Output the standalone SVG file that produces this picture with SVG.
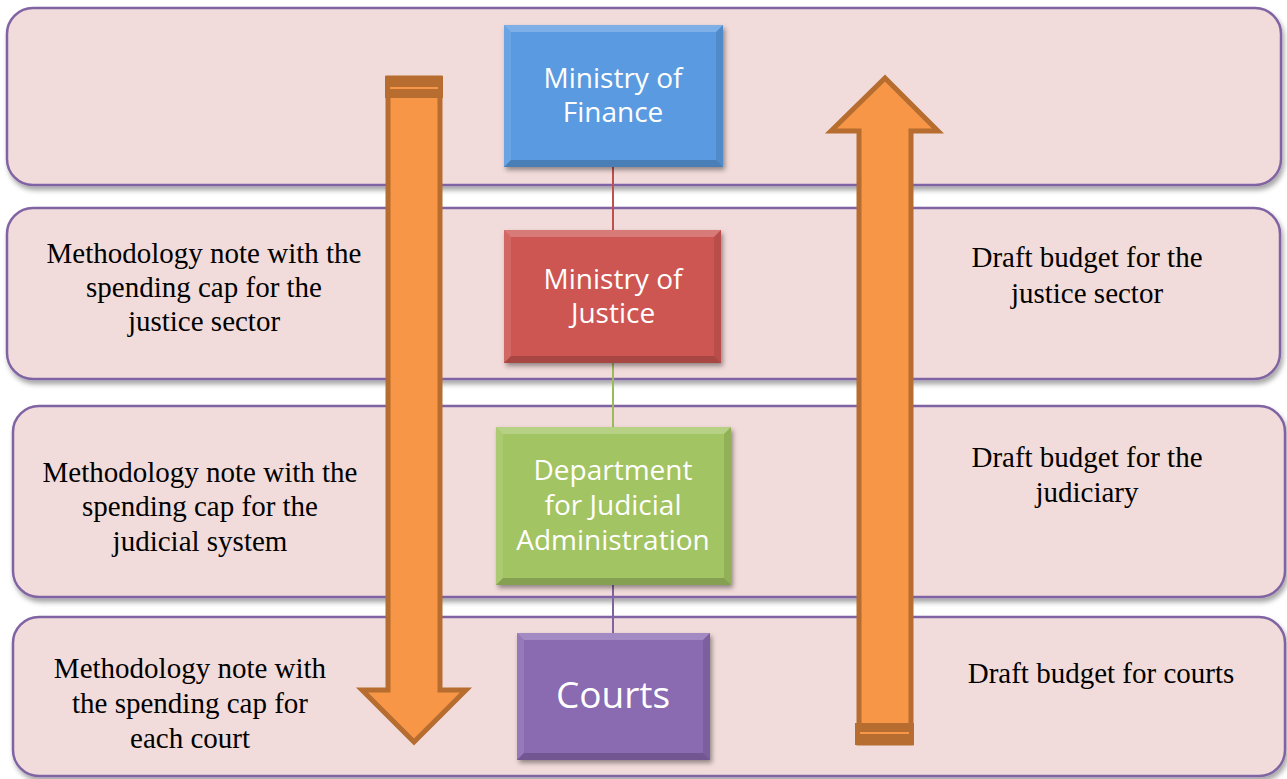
<svg xmlns="http://www.w3.org/2000/svg" width="1287" height="779" viewBox="0 0 1287 779">
  <defs>
    <filter id="shadow" x="-5%" y="-10%" width="110%" height="125%">
      <feDropShadow dx="2" dy="4" stdDeviation="2.5" flood-color="#000" flood-opacity="0.35"/>
    </filter>
    <filter id="boxShadow" x="-10%" y="-10%" width="125%" height="125%">
      <feDropShadow dx="2" dy="3" stdDeviation="2.5" flood-color="#000" flood-opacity="0.4"/>
    </filter>
    <style>
      .band { fill: #F2DCDB; stroke: #8064A2; stroke-width: 2.5; }
      .note { font-family: "Liberation Serif", "Times New Roman", serif; font-size: 29px; fill: #000; text-anchor: middle; }
      .label { font-family: "Open Sans", "Liberation Sans", sans-serif; font-size: 28px; fill: #fff; text-anchor: middle; }
      .bt { fill: #fff; opacity: 0.22; }
      .bl { fill: #fff; opacity: 0.1; }
      .bb { fill: #000; opacity: 0.18; }
      .br { fill: #000; opacity: 0.1; }
      .arrow { fill: #F79646; stroke: #B66D2F; stroke-width: 5; stroke-linejoin: miter; }
      .cap { fill: #B66D2F; }
      .capline { stroke: #F79646; stroke-width: 2; }
      .conn { stroke-width: 2; fill: none; }
    </style>
  </defs>
  <rect width="1287" height="779" fill="#fff"/>

  <!-- horizontal bands -->
  <g id="bands" filter="url(#shadow)">
    <rect id="band-finance" class="band" x="7" y="8" width="1274" height="177" rx="26"/>
    <rect id="band-justice" class="band" x="7" y="208" width="1273" height="171" rx="26"/>
    <rect id="band-judiciary" class="band" x="13" y="406" width="1272" height="191" rx="26"/>
    <rect id="band-courts" class="band" x="13" y="617" width="1272" height="159" rx="26"/>
  </g>

  <!-- connectors between the hierarchy boxes -->
  <g id="connectors">
    <line class="conn" x1="613" y1="167" x2="613" y2="230" stroke="#C0504D"/>
    <line class="conn" x1="613" y1="363" x2="613" y2="427" stroke="#9BBB59"/>
    <line class="conn" x1="613" y1="585" x2="613" y2="633" stroke="#8064A2"/>
  </g>

  <!-- downward arrow -->
  <g id="arrow-down">
    <polygon class="arrow" points="388,78 440,78 440,690 466,690 414,742 362,690 388,690"/>
    <rect class="cap" x="385" y="76" width="58" height="22"/>
    <line class="capline" x1="390" y1="88" x2="438" y2="88"/>
  </g>

  <!-- upward arrow -->
  <g id="arrow-up">
    <polygon class="arrow" points="859,743 911,743 911,131 938,131 885,78 831,131 859,131"/>
    <rect class="cap" x="855" y="723" width="59" height="22"/>
    <line class="capline" x1="860" y1="733" x2="909" y2="733"/>
  </g>

  <!-- Ministry of Finance -->
  <g id="node-finance">
    <rect x="504" y="25" width="219" height="142" fill="#5A9AE0" filter="url(#boxShadow)"/>
    <polygon class="bt" points="504,25 723,25 716,32 511,32"/>
    <polygon class="bl" points="504,25 511,32 511,160 504,167"/>
    <polygon class="bb" points="504,167 723,167 716,160 511,160"/>
    <polygon class="br" points="723,25 716,32 716,160 723,167"/>
    <text class="label" x="613" y="88">Ministry of</text>
    <text class="label" x="613" y="122">Finance</text>
  </g>

  <!-- Ministry of Justice -->
  <g id="node-justice">
    <rect x="504" y="230" width="217" height="133" fill="#CD5653" filter="url(#boxShadow)"/>
    <polygon class="bt" points="504,230 721,230 714,237 511,237"/>
    <polygon class="bl" points="504,230 511,237 511,356 504,363"/>
    <polygon class="bb" points="504,363 721,363 714,356 511,356"/>
    <polygon class="br" points="721,230 714,237 714,356 721,363"/>
    <text class="label" x="613" y="289">Ministry of</text>
    <text class="label" x="613" y="323">Justice</text>
  </g>

  <!-- Department for Judicial Administration -->
  <g id="node-department">
    <rect x="496" y="427" width="235" height="158" fill="#A3C462" filter="url(#boxShadow)"/>
    <polygon class="bt" points="496,427 731,427 724,434 503,434"/>
    <polygon class="bl" points="496,427 503,434 503,578 496,585"/>
    <polygon class="bb" points="496,585 731,585 724,578 503,578"/>
    <polygon class="br" points="731,427 724,434 724,578 731,585"/>
    <text class="label" x="613" y="480">Department</text>
    <text class="label" x="613" y="515">for Judicial</text>
    <text class="label" x="613" y="550">Administration</text>
  </g>

  <!-- Courts -->
  <g id="node-courts">
    <rect x="517" y="633" width="193" height="127" fill="#8A6BB1" filter="url(#boxShadow)"/>
    <polygon class="bt" points="517,633 710,633 703,640 524,640"/>
    <polygon class="bl" points="517,633 524,640 524,753 517,760"/>
    <polygon class="bb" points="517,760 710,760 703,753 524,753"/>
    <polygon class="br" points="710,633 703,640 703,753 710,760"/>
    <text class="label" x="613" y="708" style="font-size:37px">Courts</text>
  </g>

  <!-- notes sent downwards -->
  <g id="notes-left">
    <text class="note" x="204" y="263">Methodology note with the</text>
    <text class="note" x="204" y="297">spending cap for the</text>
    <text class="note" x="204" y="331">justice sector</text>
    <text class="note" x="200" y="482">Methodology note with the</text>
    <text class="note" x="200" y="516">spending cap for the</text>
    <text class="note" x="200" y="551">judicial system</text>
    <text class="note" x="190" y="678">Methodology note with</text>
    <text class="note" x="190" y="713">the spending cap for</text>
    <text class="note" x="190" y="748">each court</text>
  </g>

  <!-- draft budgets sent upwards -->
  <g id="notes-right">
    <text class="note" x="1087" y="267">Draft budget for the</text>
    <text class="note" x="1087" y="303">justice sector</text>
    <text class="note" x="1087" y="467">Draft budget for the</text>
    <text class="note" x="1087" y="502">judiciary</text>
    <text class="note" x="1101" y="683">Draft budget for courts</text>
  </g>
</svg>
